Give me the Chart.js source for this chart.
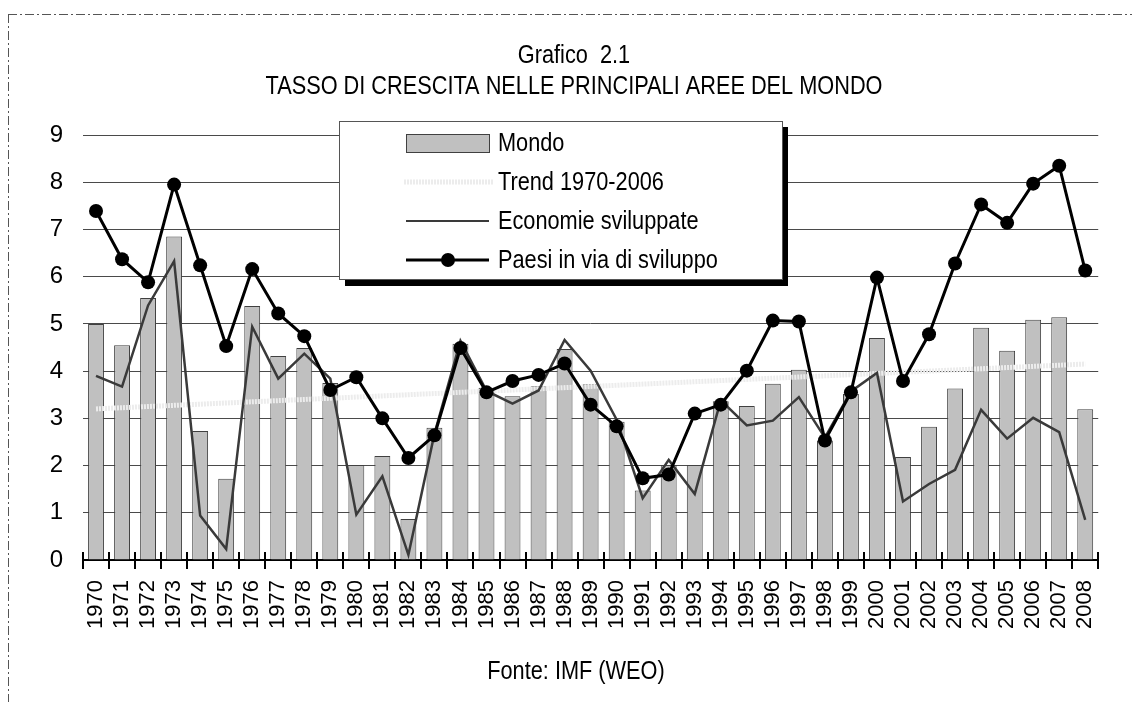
<!DOCTYPE html>
<html>
<head>
<meta charset="utf-8">
<script src="https://cdn.jsdelivr.net/npm/chart.js@4"></script>
<style>
html,body{margin:0;padding:0;background:#fff;}
#wrap{width:1132px;height:702px;position:relative;}
</style>
</head>
<body>
<div id="wrap"><canvas id="c" width="1132" height="702"></canvas></div>
<script>
const years = ['1970','1971','1972','1973','1974','1975','1976','1977','1978','1979',
  '1980','1981','1982','1983','1984','1985','1986','1987','1988','1989',
  '1990','1991','1992','1993','1994','1995','1996','1997','1998','1999',
  '2000','2001','2002','2003','2004','2005','2006','2007','2008'];

const mondo = [5.0,4.55,5.55,6.85,2.73,1.72,5.38,4.32,4.49,3.75,
  2.01,2.2,0.87,2.8,4.58,3.65,3.47,3.68,4.47,3.72,
  2.93,1.47,2.01,2.01,3.36,3.26,3.73,4.03,2.53,3.52,
  4.70,2.18,2.82,3.63,4.92,4.43,5.09,5.14,3.19];

const economieSviluppate = [3.9,3.67,5.39,6.33,0.94,0.23,4.94,3.84,4.37,3.84,
  0.96,1.77,0.11,2.67,4.64,3.58,3.31,3.59,4.66,4.01,
  2.97,1.31,2.12,1.40,3.38,2.85,2.95,3.45,2.59,3.57,
  3.96,1.24,1.61,1.91,3.18,2.57,3.01,2.71,0.85];

const paesiInViaDiSviluppo = [7.39,6.37,5.88,7.95,6.24,4.53,6.16,5.22,4.74,3.6,
  3.87,3.0,2.16,2.64,4.49,3.55,3.79,3.92,4.16,3.29,
  2.83,1.73,1.81,3.1,3.29,4.01,5.07,5.05,2.53,3.55,
  5.98,3.79,4.78,6.28,7.53,7.14,7.97,8.35,6.13];

// linear trend: only its two end values are read, the library joins them
const trend = [3.2,null,null,null,null,null,null,null,null,null,
  null,null,null,null,null,null,null,null,null,null,
  null,null,null,null,null,null,null,null,null,null,
  null,null,null,null,null,null,null,null,4.15];

const yTicks = [0,1,2,3,4,5,6,7,8,9];
const seriesLabels = ['Mondo','Trend 1970-2006','Economie sviluppate','Paesi in via di sviluppo'];
const titleLines = ['Grafico  2.1','TASSO DI CRESCITA NELLE PRINCIPALI AREE DEL MONDO'];
const sourceText = 'Fonte: IMF (WEO)';

const FONT = '"Liberation Sans",Arial,sans-serif';
const NARROW = 0.82;
const BAR_FILL = '#c0c0c0', BAR_EDGE = '#404040';
const TREND_COL = '#ececec', ECON_COL = '#3a3a3a', PAESI_COL = '#000000';

function narrowText(ctx, text, x, y, align) {
  ctx.save();
  ctx.translate(x, y);
  ctx.scale(NARROW, 1);
  ctx.textAlign = align;
  ctx.textBaseline = 'middle';
  ctx.fillText(text, 0, 0);
  ctx.restore();
}

const decor = {
  id: 'decor',
  afterDraw(chart) {
    const ctx = chart.ctx;
    const xs = chart.scales.x, ys = chart.scales.y;
    ctx.save();
    // dash-dot frame
    ctx.strokeStyle = '#555';
    ctx.lineWidth = 1;
    ctx.setLineDash([9,3,2,3]);
    ctx.beginPath();
    ctx.moveTo(8, 14.5); ctx.lineTo(1132, 14.5);
    ctx.moveTo(8.5, 14); ctx.lineTo(8.5, 702);
    ctx.stroke();
    ctx.setLineDash([]);

    // tick marks crossing the x axis at category boundaries
    const step = xs.getPixelForValue(1) - xs.getPixelForValue(0);
    const y0 = ys.getPixelForValue(0);
    ctx.strokeStyle = '#000';
    ctx.lineWidth = 2;
    ctx.beginPath();
    for (let i = 0; i <= years.length; i++) {
      const x = Math.round(xs.getPixelForValue(0) - step / 2 + i * step);
      ctx.moveTo(x, y0 - 8); ctx.lineTo(x, y0 + 9);
    }
    ctx.stroke();

    // titles and source
    ctx.fillStyle = '#000';
    ctx.font = '26.5px ' + FONT;
    narrowText(ctx, titleLines[0], 574, 56, 'center');
    narrowText(ctx, titleLines[1], 574, 87, 'center');
    narrowText(ctx, sourceText, 576, 672, 'center');

    // legend box with shadow
    ctx.fillStyle = '#000';
    ctx.fillRect(345, 127, 443, 159);
    ctx.fillStyle = '#fff';
    ctx.fillRect(339, 121, 443, 158);
    ctx.strokeStyle = '#555';
    ctx.lineWidth = 1;
    ctx.strokeRect(339.5, 121.5, 443, 158);

    const rows = [143, 182, 221, 260];
    // Mondo
    ctx.fillStyle = BAR_FILL;
    ctx.fillRect(406, 134, 83, 18);
    ctx.strokeStyle = BAR_EDGE;
    ctx.strokeRect(406.5, 134.5, 83, 18);
    // Trend
    ctx.strokeStyle = TREND_COL; ctx.lineWidth = 5;
    ctx.setLineDash([2,1]);
    ctx.beginPath(); ctx.moveTo(404, rows[1]); ctx.lineTo(494, rows[1]); ctx.stroke();
    ctx.setLineDash([]);
    // Economie
    ctx.strokeStyle = ECON_COL; ctx.lineWidth = 2;
    ctx.beginPath(); ctx.moveTo(406, rows[2]); ctx.lineTo(489, rows[2]); ctx.stroke();
    // Paesi
    ctx.strokeStyle = PAESI_COL; ctx.lineWidth = 3;
    ctx.beginPath(); ctx.moveTo(406, rows[3]); ctx.lineTo(489, rows[3]); ctx.stroke();
    ctx.fillStyle = PAESI_COL;
    ctx.beginPath(); ctx.arc(448, rows[3], 7, 0, Math.PI * 2); ctx.fill();

    ctx.fillStyle = '#000';
    ctx.font = '26.5px ' + FONT;
    seriesLabels.forEach((t, i) => narrowText(ctx, t, 498, rows[i] + 1, 'left'));
    ctx.restore();
  }
};

new Chart(document.getElementById('c'), {
  type: 'bar',
  data: {
    labels: years,
    datasets: [
      { type: 'line', label: seriesLabels[3], data: paesiInViaDiSviluppo, order: 1,
        borderColor: PAESI_COL, backgroundColor: PAESI_COL, borderWidth: 3,
        pointRadius: 7, pointBorderWidth: 0, pointBackgroundColor: PAESI_COL, tension: 0 },
      { type: 'line', label: seriesLabels[2], data: economieSviluppate, order: 2,
        borderColor: ECON_COL, borderWidth: 2.5, pointRadius: 0, tension: 0 },
      { type: 'line', label: seriesLabels[1], data: trend, order: 3, spanGaps: true,
        borderColor: TREND_COL, borderWidth: 5, borderDash: [2,1], pointRadius: 0, tension: 0 },
      { type: 'bar', label: seriesLabels[0], data: mondo, order: 4,
        backgroundColor: BAR_FILL, borderColor: BAR_EDGE, borderWidth: 1,
        barPercentage: 1, categoryPercentage: 0.61 }
    ]
  },
  options: {
    responsive: false,
    animation: false,
    layout: { padding: { top: 135, right: 29, bottom: 0, left: 0 } },
    plugins: { legend: { display: false }, title: { display: false }, tooltip: { enabled: false } },
    scales: {
      x: {
        offset: true,
        grid: { display: false, drawTicks: false },
        border: { display: true, color: '#000', width: 2 },
        ticks: { autoSkip: false, maxRotation: 90, minRotation: 90, padding: 20,
                 color: '#000', font: { family: FONT, size: 22 } },
        afterFit(scale) { scale.height = 142; }
      },
      y: {
        min: 0, max: 9,
        afterBuildTicks(scale) { scale.ticks = yTicks.map(v => ({ value: v })); },
        grid: { color: '#4a4a4a', lineWidth: 1, drawTicks: false },
        border: { display: false },
        ticks: { padding: 20, color: '#000', font: { family: FONT, size: 24 } },
        afterFit(scale) { scale.width = 83; }
      }
    }
  },
  plugins: [decor]
});
</script>
</body>
</html>
